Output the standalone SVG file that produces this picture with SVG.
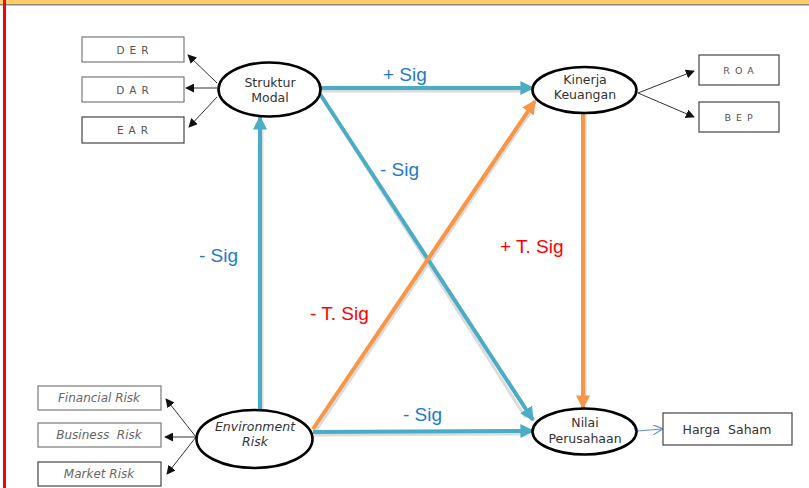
<svg xmlns="http://www.w3.org/2000/svg" width="809" height="488" viewBox="0 0 809 488">
<defs>
<style>
.box{fill:#fff;stroke:#7a7a7a;stroke-width:1.2}
.ell{fill:#fff;stroke:#000;stroke-width:2.6}
.nt{font-family:"DejaVu Sans",Verdana,sans-serif;font-size:12.5px;fill:#333;text-anchor:middle}
.bt{font-family:"DejaVu Sans",Verdana,sans-serif;font-size:10.5px;fill:#555;text-anchor:middle;letter-spacing:5px}
.it{font-family:"DejaVu Sans",Verdana,sans-serif;font-size:12px;fill:#666;text-anchor:middle;font-style:italic}
.thin{stroke:#333;stroke-width:1;fill:none}
.blue{stroke:#4BACC6;stroke-width:4;fill:none}
.orng{stroke:#F79646;stroke-width:4;fill:none}
.shd{stroke:#dcdcdc;stroke-width:3;fill:none}
.lb{font-family:"Liberation Sans",Arial,sans-serif;font-size:19px;fill:#1F7ACB}
.lr{font-family:"Liberation Sans",Arial,sans-serif;font-size:19px;fill:#FF0000}
</style>
<marker id="ab" viewBox="0 0 10 10" refX="9" refY="5" markerWidth="9" markerHeight="9" markerUnits="userSpaceOnUse" orient="auto"><path d="M0,0 L10,5 L0,10 Z" fill="#111"/></marker>
<marker id="abl" viewBox="0 0 10 10" refX="9" refY="5" markerWidth="14" markerHeight="14" markerUnits="userSpaceOnUse" orient="auto"><path d="M0,0 L10,5 L0,10 Z" fill="#4BACC6"/></marker>
<marker id="aor" viewBox="0 0 10 10" refX="9" refY="5" markerWidth="14" markerHeight="14" markerUnits="userSpaceOnUse" orient="auto"><path d="M0,0 L10,5 L0,10 Z" fill="#F79646"/></marker>
<marker id="aop" viewBox="0 0 10 10" refX="9" refY="5" markerWidth="10" markerHeight="10" markerUnits="userSpaceOnUse" orient="auto"><path d="M0,0 L10,5 L0,10" fill="none" stroke="#5B8FD6" stroke-width="1.2"/></marker>
</defs>
<rect x="0" y="0" width="809" height="488" fill="#fff"/>
<rect x="0" y="0" width="809" height="4" fill="#FFCC66"/>
<rect x="0" y="4" width="809" height="1.5" fill="#8a8a7a"/>
<rect x="3" y="0" width="3" height="488" fill="#FF0000"/>

<g id="connectors">
<line class="thin" x1="217" y1="83" x2="188" y2="55" marker-end="url(#ab)"/>
<line class="thin" x1="217" y1="88" x2="186" y2="88" marker-end="url(#ab)"/>
<line class="thin" x1="217" y1="97" x2="189" y2="127" marker-end="url(#ab)"/>
<line class="thin" x1="638" y1="93" x2="694" y2="71" marker-end="url(#ab)"/>
<line class="thin" x1="638" y1="93" x2="694" y2="117" marker-end="url(#ab)"/>
<line class="thin" x1="196" y1="437" x2="166" y2="399" marker-end="url(#ab)"/>
<line class="thin" x1="196" y1="437" x2="165" y2="437" marker-end="url(#ab)"/>
<line class="thin" x1="196" y1="437" x2="167" y2="474" marker-end="url(#ab)"/>
<line x1="637" y1="431" x2="662" y2="429" stroke="#5B8FD6" stroke-width="1.2" marker-end="url(#aop)"/>

<line class="shd" x1="322" y1="91" x2="524" y2="91"/>
<line class="shd" x1="322" y1="97" x2="526" y2="418"/>
<line class="shd" x1="262" y1="410" x2="262" y2="128"/>
<line class="shd" x1="314" y1="435" x2="524" y2="434"/>
<line class="shd" x1="315" y1="432" x2="530" y2="113"/>
<line class="shd" x1="585" y1="114" x2="585" y2="398"/>

<line class="blue" x1="321" y1="88" x2="533" y2="88" marker-end="url(#abl)"/>
<line class="blue" x1="320" y1="94" x2="533" y2="420" marker-end="url(#abl)"/>
<line class="blue" x1="260" y1="410" x2="260" y2="117" marker-end="url(#abl)"/>
<line class="blue" x1="313" y1="432" x2="533" y2="431" marker-end="url(#abl)"/>
<line class="orng" x1="313" y1="429" x2="535" y2="101" marker-end="url(#aor)"/>
<line class="orng" x1="583" y1="113" x2="583" y2="408" marker-end="url(#aor)"/>

<text class="lb" x="383" y="81">+ Sig</text>
<text class="lb" x="380" y="176">- Sig</text>
<text class="lb" x="199" y="262">- Sig</text>
<text class="lb" x="403" y="421">- Sig</text>
<text class="lr" x="310" y="320">- T. Sig</text>
<text class="lr" x="500" y="253">+ T. Sig</text>
</g>

<g id="der"><rect class="box" x="82" y="37" width="102" height="25"/><text class="bt" x="135" y="54">DER</text></g>
<g id="dar"><rect class="box" x="82" y="77" width="102" height="25"/><text class="bt" x="135" y="94">DAR</text></g>
<g id="ear"><rect class="box" x="82" y="117" width="102" height="26" style="stroke:#444"/><text class="bt" x="135" y="134">EAR</text></g>
<g id="roa"><rect class="box" x="699" y="55" width="80" height="30" style="stroke:#444"/><text class="bt" x="741" y="74" style="font-size:9.5px">ROA</text></g>
<g id="bep"><rect class="box" x="699" y="102" width="80" height="30" style="stroke:#444"/><text class="bt" x="741" y="121" style="font-size:9.5px">BEP</text></g>
<g id="fin"><rect class="box" x="38" y="386" width="123" height="24"/><text class="it" x="99" y="402">Financial Risk</text></g>
<g id="bus"><rect class="box" x="38" y="423" width="123" height="24"/><text class="it" x="99" y="439">Business&#160; Risk</text></g>
<g id="mkt"><rect class="box" x="38" y="462" width="123" height="24" style="stroke:#444"/><text class="it" x="99" y="478">Market Risk</text></g>
<g id="harga"><rect class="box" x="663" y="413" width="129" height="32" style="stroke:#444"/><text class="nt" x="727" y="434" style="font-size:12.5px">Harga&#160; Saham</text></g>

<g id="struktur"><ellipse class="ell" cx="269.5" cy="89.5" rx="51" ry="27"/><text class="nt" x="270" y="87">Struktur</text><text class="nt" x="270" y="102">Modal</text></g>
<g id="kinerja"><ellipse class="ell" cx="584.5" cy="90" rx="52" ry="23"/><text class="nt" x="585" y="84">Kinerja</text><text class="nt" x="585" y="99">Keuangan</text></g>
<g id="env"><ellipse class="ell" cx="254.5" cy="439" rx="58" ry="29"/><text class="nt" x="255" y="431" style="font-style:italic">Environment</text><text class="nt" x="255" y="446" style="font-style:italic">Risk</text></g>
<g id="nilai"><ellipse class="ell" cx="584.5" cy="431.5" rx="52" ry="23"/><text class="nt" x="585" y="427">Nilai</text><text class="nt" x="585" y="443">Perusahaan</text></g>
</svg>
